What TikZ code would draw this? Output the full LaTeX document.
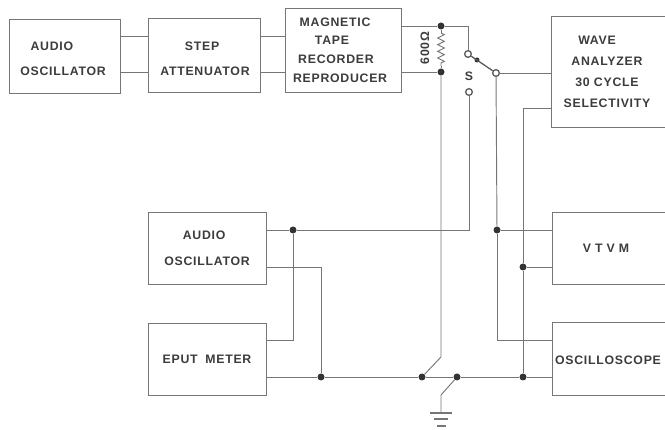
\documentclass[tikz,border=0pt]{standalone}
\usepackage{fontspec}
\setmainfont[LetterSpace=6]{Liberation Sans}
\usepackage{xcolor}
\definecolor{myink}{RGB}{118,118,118}
\definecolor{mytext}{RGB}{60,60,60}
\usetikzlibrary{positioning}
\usetikzlibrary{calc}
\usetikzlibrary{decorations.pathmorphing}

\begin{document}
\begin{tikzpicture}[x=0.03cm,y=-0.03cm,
	unit/.style={draw=myink,line width=0.8pt,inner sep=0pt,text=mytext,align=center,font=\fontsize{10.5}{10.5}\selectfont\bfseries},
	tag/.style={inner sep=0pt,text=mytext,align=center,font=\fontsize{10.5}{10.5}\selectfont\bfseries},
	wire/.style={draw=myink,line width=0.8pt},
	dot/.style={circle,fill=black!80,inner sep=0pt,minimum size=0.21cm},
	term/.style={circle,draw=black!65,fill=white,line width=1.1pt,inner sep=0pt,minimum size=0.2cm}]
	\useasboundingbox (0,0) rectangle (665,430);

	% top row
	\begin{scope}[every node/.append style={unit}]
	    \node[minimum width=3.33cm,minimum height=2.22cm] (osca) at (64.5,56) {};
	    \node[minimum width=3.36cm,minimum height=2.22cm] (att) at (204,55) {};
	    \node[minimum width=3.48cm,minimum height=2.52cm] (tape) at (343,50) {\hspace*{-13.6pt}MAGNETIC\\[5.5pt]\hspace*{-18.7pt}TAPE\\[5.5pt]\hspace*{-12pt}RECORDER\\[5.5pt]\hspace*{-5pt}REPRODUCER};
	    \node[minimum width=4.2cm,minimum height=3.33cm] (wave) at (621,71.5) {};
	\end{scope}
	\node[tag] (osctext) at (63,59) {\hspace*{-19pt}AUDIO\\[11pt]OSCILLATOR};
	\node[tag] (atttext) at (205,59) {\hspace*{-5pt}STEP\\[11pt]ATTENUATOR};
	\node[tag] (wavetext) at (607,72) {\hspace*{-17pt}WAVE\\[7.5pt]ANALYZER\\[7.5pt]30 CYCLE\\[7.5pt]SELECTIVITY};

	% lower boxes
	\begin{scope}[every node/.append style={unit}]
	    \node[minimum width=3.54cm,minimum height=2.16cm] (oscb) at (207,248) {\hspace*{-5pt}AUDIO\\[12pt]OSCILLATOR};
	    \node[minimum width=3.54cm,minimum height=2.16cm] (eput) at (207,359) {EPUT\hspace{3pt} METER};
	    \node[minimum width=4.2cm,minimum height=2.16cm] (vtvm) at (622,248) {};
	    \node[minimum width=4.2cm,minimum height=2.19cm] (scope) at (622,358.5) {};
	\end{scope}
	\node[tag] (vtvmtext) at (606,248) {V\,\,T\,\,V\,\,M};
	\node[tag] (scopetext) at (608,360) {OSCILLOSCOPE};

	% wire levels
	\coordinate (upper) at (0,36);
	\coordinate (lower) at (0,72);
	\coordinate (lvlwave) at (0,108);
	\coordinate (lvla) at (0,230);
	\coordinate (lvlb) at (0,267);
	\coordinate (lvlc) at (0,340);
	\coordinate (lvld) at (0,377);

	% junctions and switch contacts
	\node[dot] (rtop) at (441,26) {};
	\node[dot] (rbot) at (441,72) {};
	\node[term] (swa) at (468,54) {};
	\node[term] (swb) at (469,92) {};
	\node[term] (swc) at (496,73) {};
	\node[dot,minimum size=0.15cm] (swd) at (477,60) {};
	\node[dot] (ja) at (293,230) {};
	\node[dot] (jb) at (497,230) {};
	\node[dot] (jc) at (523,267) {};
	\node[dot] (jd) at (321,377) {};
	\node[dot] (je) at (422,377) {};
	\node[dot] (jf) at (457,377) {};
	\node[dot] (jg) at (523,377) {};
	\coordinate (kneea) at (441,357);
	\coordinate (kneeb) at (441,395);
	\coordinate (gnda) at (441,413);

	\begin{scope}[every path/.append style={wire}]
	    \draw (osca.east |- upper) -- (att.west |- upper);
	    \draw (osca.east |- lower) -- (att.west |- lower);
	    \draw (att.east |- upper) -- (tape.west |- upper);
	    \draw (att.east |- lower) -- (tape.west |- lower);
	    \draw (tape.east |- rtop) -- (rtop) -- (rtop -| swa) -- (swa);
	    \draw (tape.east |- rbot) -- (rbot);
	    \draw (rtop) -- ($(rtop)+(0,7)$);
	    \draw[decorate,decoration={zigzag,amplitude=0.1cm,segment length=0.2cm}] ($(rtop)+(0,7)$) -- ($(rbot)+(0,-6)$);
	    \draw ($(rbot)+(0,-6)$) -- (rbot);
	    \draw[draw=black!65,line width=1.1pt] (swa) -- (swc);
	    \draw (swc) -- (wave.west |- swc);
	    \draw (swb) -- (swb |- lvla);
	    \draw (oscb.east |- lvla) -- (ja) -- (swb |- lvla) -- (swb);
	    \draw (swc) -- (jb);
	    \draw (jb) -- (vtvm.west |- jb);
	    \draw (jb) -- (jb |- lvlc) -- (scope.west |- lvlc);
	    \draw (ja) -- (ja |- lvlc) -- (eput.east |- lvlc);
	    \draw (oscb.east |- lvlb) -- (lvlb -| jd) -- (jd);
	    \draw (eput.east |- lvld) -- (jd) -- (je);
	    \draw (rbot) -- (kneea) -- (je);
	    \draw (jf) -- (jg) -- (scope.west |- lvld);
	    \draw (wave.west |- lvlwave) -- (lvlwave -| jc) -- (jc) -- (jg);
	    \draw (jc) -- (vtvm.west |- jc);
	    \draw (jf) -- (kneeb) -- (gnda);
	    \draw (je) -- (jf);
	    % ground
	    \draw[line width=1pt] (430,413) -- (452,413);
	    \draw[line width=1.1pt] (434,419) -- (448,419);
	    \draw[line width=1.3pt] (437,426) -- (446,426);
	\end{scope}

	\node[tag,rotate=90] (ohms) at (425,48) {600Ω};
	\node[tag] (swlabel) at (469,76) {S};
\end{tikzpicture}
\end{document}
